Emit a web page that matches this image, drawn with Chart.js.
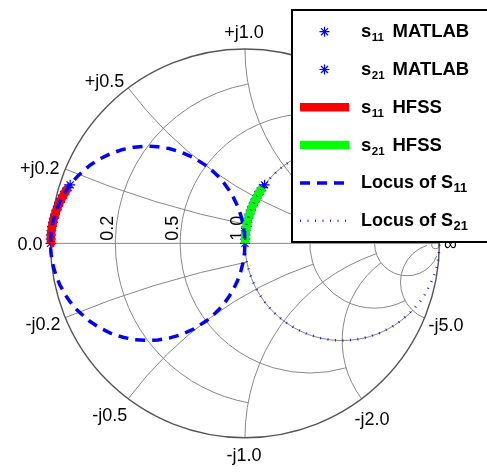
<!DOCTYPE html>
<html>
<head>
<meta charset="utf-8">
<script src="https://cdn.jsdelivr.net/npm/chart.js@4.4.0/dist/chart.umd.min.js"></script>
<style>
html,body{margin:0;padding:0;background:#fff;}
canvas{display:block;}
</style>
</head>
<body>
<canvas id="c" width="487" height="476"></canvas>
<script>
// ---------------- data (reflection-coefficient plane) ----------------
const s11MatlabRe = [-1.000, -0.999, -0.998, -0.996, -0.992, -0.988, -0.983, -0.977, -0.970, -0.962, -0.953, -0.944, -0.933, -0.922, -0.910, -0.899];
const s11MatlabIm = [0.000, 0.022, 0.044, 0.065, 0.087, 0.108, 0.129, 0.150, 0.171, 0.191, 0.211, 0.231, 0.250, 0.269, 0.287, 0.301];
const s21MatlabRe = [0.000, 0.001, 0.002, 0.004, 0.008, 0.012, 0.017, 0.023, 0.030, 0.038, 0.047, 0.057, 0.067, 0.078, 0.090, 0.101];
const s21MatlabIm = [0.000, 0.022, 0.044, 0.065, 0.087, 0.108, 0.129, 0.150, 0.171, 0.191, 0.211, 0.231, 0.250, 0.269, 0.287, 0.301];

const s11HfssRe = [-1.000, -0.998, -0.992, -0.983, -0.970, -0.953, -0.933, -0.910];
const s11HfssIm = [0.000, 0.044, 0.087, 0.129, 0.171, 0.211, 0.250, 0.287];
const s21HfssRe = [0.000, 0.002, 0.008, 0.017, 0.030, 0.047, 0.067, 0.090];
const s21HfssIm = [0.000, 0.044, 0.087, 0.129, 0.171, 0.211, 0.250, 0.287];

// Loci: S11 on the g = 1 conductance circle (y = 1 + jb), S21 on the r = 1 resistance circle (z = 1 + jx)
const locusS11Susceptance = [-300, -70, -35, -22, -16, -12, -9, -7, -6, -5, -4, -3.5, -3, -2.6, -2.3, -2, -1.8, -1.6, -1.4, -1.2, -1, -0.9, -0.8, -0.7, -0.6, -0.5, -0.4, -0.3, -0.2, -0.1, 0, 0.1, 0.2, 0.3, 0.4, 0.5, 0.6, 0.7, 0.8, 0.9, 1, 1.2, 1.4, 1.6, 1.8, 2, 2.3, 2.6, 3, 3.5, 4, 5, 6, 7, 9, 12, 16, 22, 35, 70, 300];
const locusS21Reactance = [-300, -70, -35, -22, -16, -12, -9, -7, -6, -5, -4, -3.5, -3, -2.6, -2.3, -2, -1.8, -1.6, -1.4, -1.2, -1, -0.9, -0.8, -0.7, -0.6, -0.5, -0.4, -0.3, -0.2, -0.1, 0, 0.1, 0.2, 0.3, 0.4, 0.5, 0.6, 0.7, 0.8, 0.9, 1, 1.2, 1.4, 1.6, 1.8, 2, 2.3, 2.6, 3, 3.5, 4, 5, 6, 7, 9, 12, 16, 22, 35, 70, 300];

// Smith grid values and where each grid line stops
const resistanceGrid = [0.2, 0.5, 1, 2, 5];
const resistanceEnds = [1, 2, 5, 5, 30];
const reactanceGrid = [0.2, 0.5, 1, 2, 5];
const reactanceEnds = [1, 2, 5, 5, 30];
const resistanceLabels = ['0.2', '0.5', '1.0', '2.0', '5.0'];
const reactanceLabelsPos = ['+j0.2', '+j0.5', '+j1.0', '+j2.0', '+j5.0'];
const reactanceLabelsNeg = ['-j0.2', '-j0.5', '-j1.0', '-j2.0', '-j5.0'];
const zeroLabel = '0.0';
const infLabel = '\u221E';

// legend texts
const legendMain = ['s', 's', 's', 's', 'Locus of S', 'Locus of S'];
const legendSub = ['11', '21', '11', '21', '11', '21'];
const legendTail = ['MATLAB', 'MATLAB', 'HFSS', 'HFSS', '', ''];

// ---------------- Smith transforms ----------------
function smithZ(r, x) { const d = (r + 1) * (r + 1) + x * x; return { re: (r * r + x * x - 1) / d, im: 2 * x / d }; }
function smithY(g, b) { const p = smithZ(g, b); return { re: -p.re, im: -p.im }; }
const pts = (re, im) => re.map((v, i) => ({ x: v, y: im[i] }));

const locusS11 = locusS11Susceptance.map(b => { const p = smithY(1, b); return { x: p.re, y: p.im }; });
const locusS21 = locusS21Reactance.map(xv => { const p = smithZ(1, xv); return { x: p.re, y: p.im }; });

const FONT = '"Liberation Sans", Arial, Helvetica, sans-serif';

// ---------------- grid + labels plugin ----------------
const smithGrid = {
  id: 'smithGrid',
  beforeDatasetsDraw(chart) {
    const ctx = chart.ctx, xs = chart.scales.x, ys = chart.scales.y;
    const px = v => xs.getPixelForValue(v), py = v => ys.getPixelForValue(v);
    const unit = px(1) - px(0);
    ctx.save();
    ctx.strokeStyle = '#878787';
    ctx.lineWidth = 1;
    resistanceGrid.forEach((r, i) => {
      const L = resistanceEnds[i];
      const c = r / (1 + r), rad = 1 / (1 + r);
      const e = smithZ(r, L);
      const a = Math.atan2(e.im, e.re - c);
      ctx.beginPath();
      ctx.arc(px(c), py(0), rad * unit, -a, a, true);
      ctx.stroke();
    });
    reactanceGrid.forEach((xv, i) => {
      [1, -1].forEach(sg => {
        const X = xv * sg, L = reactanceEnds[i];
        const cy = 1 / X, rad = Math.abs(1 / X);
        const p0 = smithZ(0, X), p1 = smithZ(L, X);
        const a0 = Math.atan2(p0.im - cy, p0.re - 1);
        let d = Math.atan2(p1.im - cy, p1.re - 1) - a0;
        while (d > Math.PI) d -= 2 * Math.PI;
        while (d <= -Math.PI) d += 2 * Math.PI;
        ctx.beginPath();
        ctx.arc(px(1), py(cy), rad * unit, -a0, -(a0 + d), d > 0);
        ctx.stroke();
      });
    });
    // real axis
    ctx.beginPath(); ctx.moveTo(px(-1), py(0)); ctx.lineTo(px(1), py(0)); ctx.stroke();
    // small circle near infinity
    ctx.beginPath(); ctx.arc(px(0.98), py(-0.008), 0.02 * unit, 0, 2 * Math.PI); ctx.stroke();
    // outer circle
    ctx.strokeStyle = '#555555'; ctx.lineWidth = 1.4;
    ctx.beginPath(); ctx.arc(px(0), py(0), unit, 0, 2 * Math.PI); ctx.stroke();

    // labels
    ctx.fillStyle = '#000';
    ctx.font = '18px ' + FONT;
    ctx.textBaseline = 'alphabetic';
    resistanceGrid.forEach((r, i) => {
      const p = smithZ(r, 0);
      ctx.save();
      ctx.translate(px(p.re) - 2, py(0) - 2.5);
      ctx.rotate(-Math.PI / 2);
      ctx.textAlign = 'left';
      ctx.fillText(resistanceLabels[i], 0, 0);
      ctx.restore();
    });
    ctx.textAlign = 'right';
    ctx.fillText(zeroLabel, px(-1) - 8, py(0) + 6.5);
    ctx.textAlign = 'left';
    ctx.fillText(infLabel, px(1) + 4.5, py(0) + 6.5);
    const posSpec = [['right', -6, 5], ['right', -4, -1], ['center', -1, -11], ['left', 4, -1], ['left', 5, 5]];
    const negSpec = [['right', -5, 11.5], ['right', -1, 22], ['center', -1, 23], ['left', -7, 26], ['left', 4, 13]];
    reactanceGrid.forEach((xv, i) => {
      const p = smithZ(0, xv);
      ctx.textAlign = posSpec[i][0];
      ctx.fillText(reactanceLabelsPos[i], px(p.re) + posSpec[i][1], py(p.im) + posSpec[i][2]);
      const q = smithZ(0, -xv);
      ctx.textAlign = negSpec[i][0];
      ctx.fillText(reactanceLabelsNeg[i], px(q.re) + negSpec[i][1], py(q.im) + negSpec[i][2]);
    });
    ctx.restore();
  }
};

// ---------------- legend plugin ----------------
function drawStar(ctx, x, y, r) {
  ctx.beginPath();
  for (let k = 0; k < 4; k++) {
    const a = k * Math.PI / 4;
    ctx.moveTo(x - r * Math.cos(a), y - r * Math.sin(a));
    ctx.lineTo(x + r * Math.cos(a), y + r * Math.sin(a));
  }
  ctx.stroke();
}
const boxLegend = {
  id: 'boxLegend',
  afterDraw(chart) {
    const ctx = chart.ctx;
    ctx.save();
    ctx.fillStyle = '#fff';
    ctx.fillRect(292, 10, 200, 232);
    ctx.strokeStyle = '#000';
    ctx.lineWidth = 2;
    ctx.strokeRect(292, 10, 200, 232);
    chart.data.datasets.forEach((ds, i) => {
      const yS = 31.7 + 37.8 * i;
      const yT = yS + 5.5;
      ctx.save();
      if (!ds.showLine) {
        ctx.strokeStyle = ds.borderColor;
        ctx.lineWidth = 1.2;
        drawStar(ctx, 324.5, yS, 5);
      } else {
        ctx.strokeStyle = ds.borderColor;
        ctx.lineWidth = ds.borderWidth;
        ctx.lineCap = 'butt';
        ctx.setLineDash(ds.borderDash || []);
        ctx.beginPath();
        ctx.moveTo(300, yS);
        ctx.lineTo(ds.borderDash && ds.borderDash[0] < 2 ? 346 : 349, yS);
        ctx.stroke();
      }
      ctx.restore();
      ctx.fillStyle = '#000';
      ctx.textAlign = 'left';
      ctx.textBaseline = 'alphabetic';
      const isLocus = legendTail[i] === '';
      ctx.font = (isLocus ? 'bold 18px ' : 'bold 18.5px ') + FONT;
      let x = 361;
      ctx.fillText(legendMain[i], x, yT);
      x += ctx.measureText(legendMain[i]).width + 0.5;
      ctx.font = (isLocus ? 'bold 13px ' : 'bold 11.5px ') + FONT;
      ctx.fillText(legendSub[i], x, yT + 4);
      if (!isLocus) {
        ctx.font = 'bold 18.5px ' + FONT;
        ctx.fillText(legendTail[i], 392.5, yT);
      }
    });
    ctx.restore();
  }
};

// ---------------- chart ----------------
const R = 199.5, CX = 245, CY = 243.5, W = 487, H = 476;
new Chart(document.getElementById('c'), {
  type: 'scatter',
  data: {
    datasets: [
      { label: 's11 MATLAB', data: pts(s11MatlabRe, s11MatlabIm), showLine: false, pointStyle: 'star', pointRadius: 5, pointBorderWidth: 1.2, borderColor: '#0000ff', backgroundColor: '#0000ff', order: 6 },
      { label: 's21 MATLAB', data: pts(s21MatlabRe, s21MatlabIm), showLine: false, pointStyle: 'star', pointRadius: 5, pointBorderWidth: 1.2, borderColor: '#0000ff', backgroundColor: '#0000ff', order: 5 },
      { label: 's11 HFSS', data: pts(s11HfssRe, s11HfssIm), showLine: true, pointRadius: 0, borderColor: '#ff0000', backgroundColor: '#ff0000', borderWidth: 8.5, borderCapStyle: 'butt', borderJoinStyle: 'round', order: 4 },
      { label: 's21 HFSS', data: pts(s21HfssRe, s21HfssIm), showLine: true, pointRadius: 0, borderColor: '#00ff00', backgroundColor: '#00ff00', borderWidth: 8.5, borderCapStyle: 'butt', borderJoinStyle: 'round', order: 3 },
      { label: 'Locus of S11', data: locusS11, showLine: true, pointRadius: 0, borderColor: '#0000ff', backgroundColor: '#0000ff', borderWidth: 3.5, borderDash: [10, 7], order: 2 },
      { label: 'Locus of S21', data: locusS21, showLine: true, pointRadius: 0, borderColor: 'rgba(0,0,255,0.85)', backgroundColor: '#0000ff', borderWidth: 2.5, borderDash: [1, 6.5], order: 1 }
    ]
  },
  options: {
    responsive: false,
    animation: false,
    devicePixelRatio: 1,
    layout: { padding: 0 },
    scales: {
      x: { type: 'linear', display: false, min: -CX / R, max: (W - CX) / R },
      y: { type: 'linear', display: false, min: -(H - CY) / R, max: CY / R }
    },
    plugins: { legend: { display: false }, tooltip: { enabled: false } },
    elements: { line: { tension: 0 } }
  },
  plugins: [smithGrid, boxLegend]
});
</script>
</body>
</html>
